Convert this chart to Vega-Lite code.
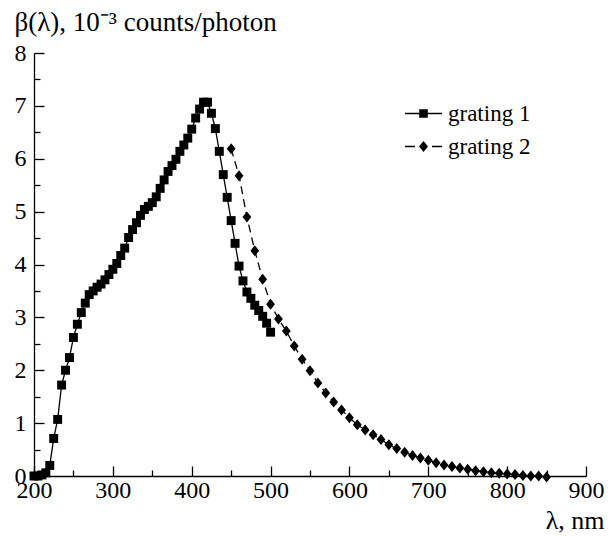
{
  "$schema": "https://vega.github.io/schema/vega-lite/v6.json",
  "width": 552,
  "height": 423,
  "autosize": {"type": "none"},
  "padding": {"left": 34, "top": 53, "right": 28, "bottom": 60},
  "background": "white",
  "config": {
    "view": {"stroke": null},
    "font": "Liberation Serif",
    "axis": {"grid": false, "domainColor": "black", "domainWidth": 1.3, "tickColor": "black", "tickWidth": 1.3, "labelColor": "black", "titleColor": "black", "labelFont": "Liberation Serif", "titleFont": "Liberation Serif", "labelFontSize": 24, "titleFontSize": 26, "titleFontWeight": "normal"}
  },
  "data": {"values": [
    {"series": "grating 1", "wl": 200, "beta": 0.0},
    {"series": "grating 1", "wl": 205, "beta": 0.0},
    {"series": "grating 1", "wl": 210, "beta": 0.02},
    {"series": "grating 1", "wl": 215, "beta": 0.06},
    {"series": "grating 1", "wl": 220, "beta": 0.2},
    {"series": "grating 1", "wl": 225, "beta": 0.71},
    {"series": "grating 1", "wl": 230, "beta": 1.07},
    {"series": "grating 1", "wl": 235, "beta": 1.72},
    {"series": "grating 1", "wl": 240, "beta": 2.0},
    {"series": "grating 1", "wl": 245, "beta": 2.24},
    {"series": "grating 1", "wl": 250, "beta": 2.62},
    {"series": "grating 1", "wl": 255, "beta": 2.87},
    {"series": "grating 1", "wl": 260, "beta": 3.09},
    {"series": "grating 1", "wl": 265, "beta": 3.27},
    {"series": "grating 1", "wl": 270, "beta": 3.43},
    {"series": "grating 1", "wl": 275, "beta": 3.5},
    {"series": "grating 1", "wl": 280, "beta": 3.57},
    {"series": "grating 1", "wl": 285, "beta": 3.63},
    {"series": "grating 1", "wl": 290, "beta": 3.71},
    {"series": "grating 1", "wl": 295, "beta": 3.81},
    {"series": "grating 1", "wl": 300, "beta": 3.91},
    {"series": "grating 1", "wl": 305, "beta": 4.02},
    {"series": "grating 1", "wl": 310, "beta": 4.17},
    {"series": "grating 1", "wl": 315, "beta": 4.31},
    {"series": "grating 1", "wl": 320, "beta": 4.51},
    {"series": "grating 1", "wl": 325, "beta": 4.66},
    {"series": "grating 1", "wl": 330, "beta": 4.79},
    {"series": "grating 1", "wl": 335, "beta": 4.93},
    {"series": "grating 1", "wl": 340, "beta": 5.04},
    {"series": "grating 1", "wl": 345, "beta": 5.1},
    {"series": "grating 1", "wl": 350, "beta": 5.17},
    {"series": "grating 1", "wl": 355, "beta": 5.28},
    {"series": "grating 1", "wl": 360, "beta": 5.44},
    {"series": "grating 1", "wl": 365, "beta": 5.6},
    {"series": "grating 1", "wl": 370, "beta": 5.76},
    {"series": "grating 1", "wl": 375, "beta": 5.87},
    {"series": "grating 1", "wl": 380, "beta": 5.99},
    {"series": "grating 1", "wl": 385, "beta": 6.14},
    {"series": "grating 1", "wl": 390, "beta": 6.26},
    {"series": "grating 1", "wl": 395, "beta": 6.39},
    {"series": "grating 1", "wl": 400, "beta": 6.56},
    {"series": "grating 1", "wl": 405, "beta": 6.77},
    {"series": "grating 1", "wl": 410, "beta": 6.94},
    {"series": "grating 1", "wl": 415, "beta": 7.07},
    {"series": "grating 1", "wl": 420, "beta": 7.07},
    {"series": "grating 1", "wl": 425, "beta": 6.86},
    {"series": "grating 1", "wl": 430, "beta": 6.57},
    {"series": "grating 1", "wl": 435, "beta": 6.14},
    {"series": "grating 1", "wl": 440, "beta": 5.7},
    {"series": "grating 1", "wl": 445, "beta": 5.27},
    {"series": "grating 1", "wl": 450, "beta": 4.83},
    {"series": "grating 1", "wl": 455, "beta": 4.4},
    {"series": "grating 1", "wl": 460, "beta": 3.97},
    {"series": "grating 1", "wl": 465, "beta": 3.69},
    {"series": "grating 1", "wl": 470, "beta": 3.48},
    {"series": "grating 1", "wl": 475, "beta": 3.36},
    {"series": "grating 1", "wl": 480, "beta": 3.23},
    {"series": "grating 1", "wl": 485, "beta": 3.13},
    {"series": "grating 1", "wl": 490, "beta": 3.02},
    {"series": "grating 1", "wl": 495, "beta": 2.89},
    {"series": "grating 1", "wl": 500, "beta": 2.72},
    {"series": "grating 2", "wl": 450, "beta": 6.19},
    {"series": "grating 2", "wl": 460, "beta": 5.68},
    {"series": "grating 2", "wl": 470, "beta": 4.9},
    {"series": "grating 2", "wl": 480, "beta": 4.26},
    {"series": "grating 2", "wl": 490, "beta": 3.72},
    {"series": "grating 2", "wl": 500, "beta": 3.25},
    {"series": "grating 2", "wl": 510, "beta": 2.97},
    {"series": "grating 2", "wl": 520, "beta": 2.74},
    {"series": "grating 2", "wl": 530, "beta": 2.46},
    {"series": "grating 2", "wl": 540, "beta": 2.21},
    {"series": "grating 2", "wl": 550, "beta": 1.99},
    {"series": "grating 2", "wl": 560, "beta": 1.76},
    {"series": "grating 2", "wl": 570, "beta": 1.57},
    {"series": "grating 2", "wl": 580, "beta": 1.4},
    {"series": "grating 2", "wl": 590, "beta": 1.25},
    {"series": "grating 2", "wl": 600, "beta": 1.1},
    {"series": "grating 2", "wl": 610, "beta": 0.97},
    {"series": "grating 2", "wl": 620, "beta": 0.87},
    {"series": "grating 2", "wl": 630, "beta": 0.78},
    {"series": "grating 2", "wl": 640, "beta": 0.69},
    {"series": "grating 2", "wl": 650, "beta": 0.59},
    {"series": "grating 2", "wl": 660, "beta": 0.52},
    {"series": "grating 2", "wl": 670, "beta": 0.45},
    {"series": "grating 2", "wl": 680, "beta": 0.39},
    {"series": "grating 2", "wl": 690, "beta": 0.34},
    {"series": "grating 2", "wl": 700, "beta": 0.3},
    {"series": "grating 2", "wl": 710, "beta": 0.25},
    {"series": "grating 2", "wl": 720, "beta": 0.21},
    {"series": "grating 2", "wl": 730, "beta": 0.18},
    {"series": "grating 2", "wl": 740, "beta": 0.15},
    {"series": "grating 2", "wl": 750, "beta": 0.13},
    {"series": "grating 2", "wl": 760, "beta": 0.1},
    {"series": "grating 2", "wl": 770, "beta": 0.08},
    {"series": "grating 2", "wl": 780, "beta": 0.06},
    {"series": "grating 2", "wl": 790, "beta": 0.05},
    {"series": "grating 2", "wl": 800, "beta": 0.04},
    {"series": "grating 2", "wl": 810, "beta": 0.03},
    {"series": "grating 2", "wl": 820, "beta": 0.01},
    {"series": "grating 2", "wl": 830, "beta": 0.0},
    {"series": "grating 2", "wl": 840, "beta": 0.0},
    {"series": "grating 2", "wl": 850, "beta": -0.02}
  ]},
  "encoding": {
    "x": {"field": "wl", "type": "quantitative",
      "scale": {"domain": [200, 900], "nice": false, "zero": false},
      "axis": {"title": "λ, nm", "values": [200,250,300,350,400,450,500,550,600,650,700,750,800,850,900],
        "labelExpr": "datum.value % 100 === 0 ? format(datum.value, 'd') : ''",
        "tickSize": {"condition": {"test": "datum.value % 100 === 0", "value": -10}, "value": -6},
        "labelPadding": 12, "labelFlush": false, "labelOverlap": false,
        "titleAnchor": "end", "titleAlign": "right", "titleX": 570, "titleY": 52, "titleBaseline": "alphabetic"}},
    "y": {"field": "beta", "type": "quantitative",
      "scale": {"domain": [0, 8], "nice": false},
      "axis": {"title": "β(λ), 10⁻³ counts/photon", "values": [0,0.5,1,1.5,2,2.5,3,3.5,4,4.5,5,5.5,6,6.5,7,7.5,8],
        "labelExpr": "datum.value % 1 === 0 ? format(datum.value, 'd') : ''",
        "tickSize": {"condition": {"test": "datum.value % 1 === 0", "value": -10}, "value": -6},
        "labelPadding": 18, "labelFlush": false, "labelOverlap": false,
        "titleFontSize": 27,
        "titleAngle": 0, "titleAlign": "left", "titleAnchor": "start", "titleBaseline": "alphabetic", "titleX": -20, "titleY": -23}}
  },
  "layer": [
    {
      "transform": [{"filter": "datum.series === 'grating 1'"}],
      "mark": {"type": "line", "color": "black", "strokeWidth": 1.3},
      "encoding": {}
    },
    {
      "transform": [{"filter": "datum.series === 'grating 2'"}],
      "mark": {"type": "line", "color": "black", "strokeWidth": 1.3, "strokeDash": [8, 5]},
      "encoding": {}
    },
    {
      "transform": [{"filter": "datum.series === 'grating 1'"}],
      "mark": {"type": "point", "shape": "square", "filled": true, "color": "black", "opacity": 1, "size": 80},
      "encoding": {}
    },
    {
      "transform": [{"filter": "datum.series === 'grating 2'"}],
      "mark": {"type": "point", "shape": "M0,-1L0.8,0L0,1L-0.8,0Z", "filled": true, "color": "black", "opacity": 1, "size": 121},
      "encoding": {}
    },
    {
      "transform": [{"filter": "false"}],
      "mark": {"type": "point", "filled": true, "color": "black", "opacity": 1, "size": 400},
      "encoding": {
        "shape": {"field": "series", "type": "nominal",
          "scale": {"domain": ["grating 1", "grating 2"], "range": ["M-1.85,-0.065H1.85V0.065H-1.85Z M-0.43,-0.43H0.43V0.43H-0.43Z", "M-1.85,-0.065H-0.85V0.065H-1.85Z M0.85,-0.065H1.85V0.065H0.85Z M0,-0.55L0.45,0L0,0.55L-0.45,0Z"]},
          "legend": {"title": null, "orient": "none", "legendX": 378, "legendY": 49, "padding": 0,
            "labelFont": "Liberation Serif", "labelFontSize": 23, "labelColor": "black", "labelOffset": 13,
            "rowPadding": 9, "symbolSize": 400, "symbolFillColor": "black", "symbolOpacity": 1, "symbolStrokeWidth": 0}}
      }
    }
  ]
}
